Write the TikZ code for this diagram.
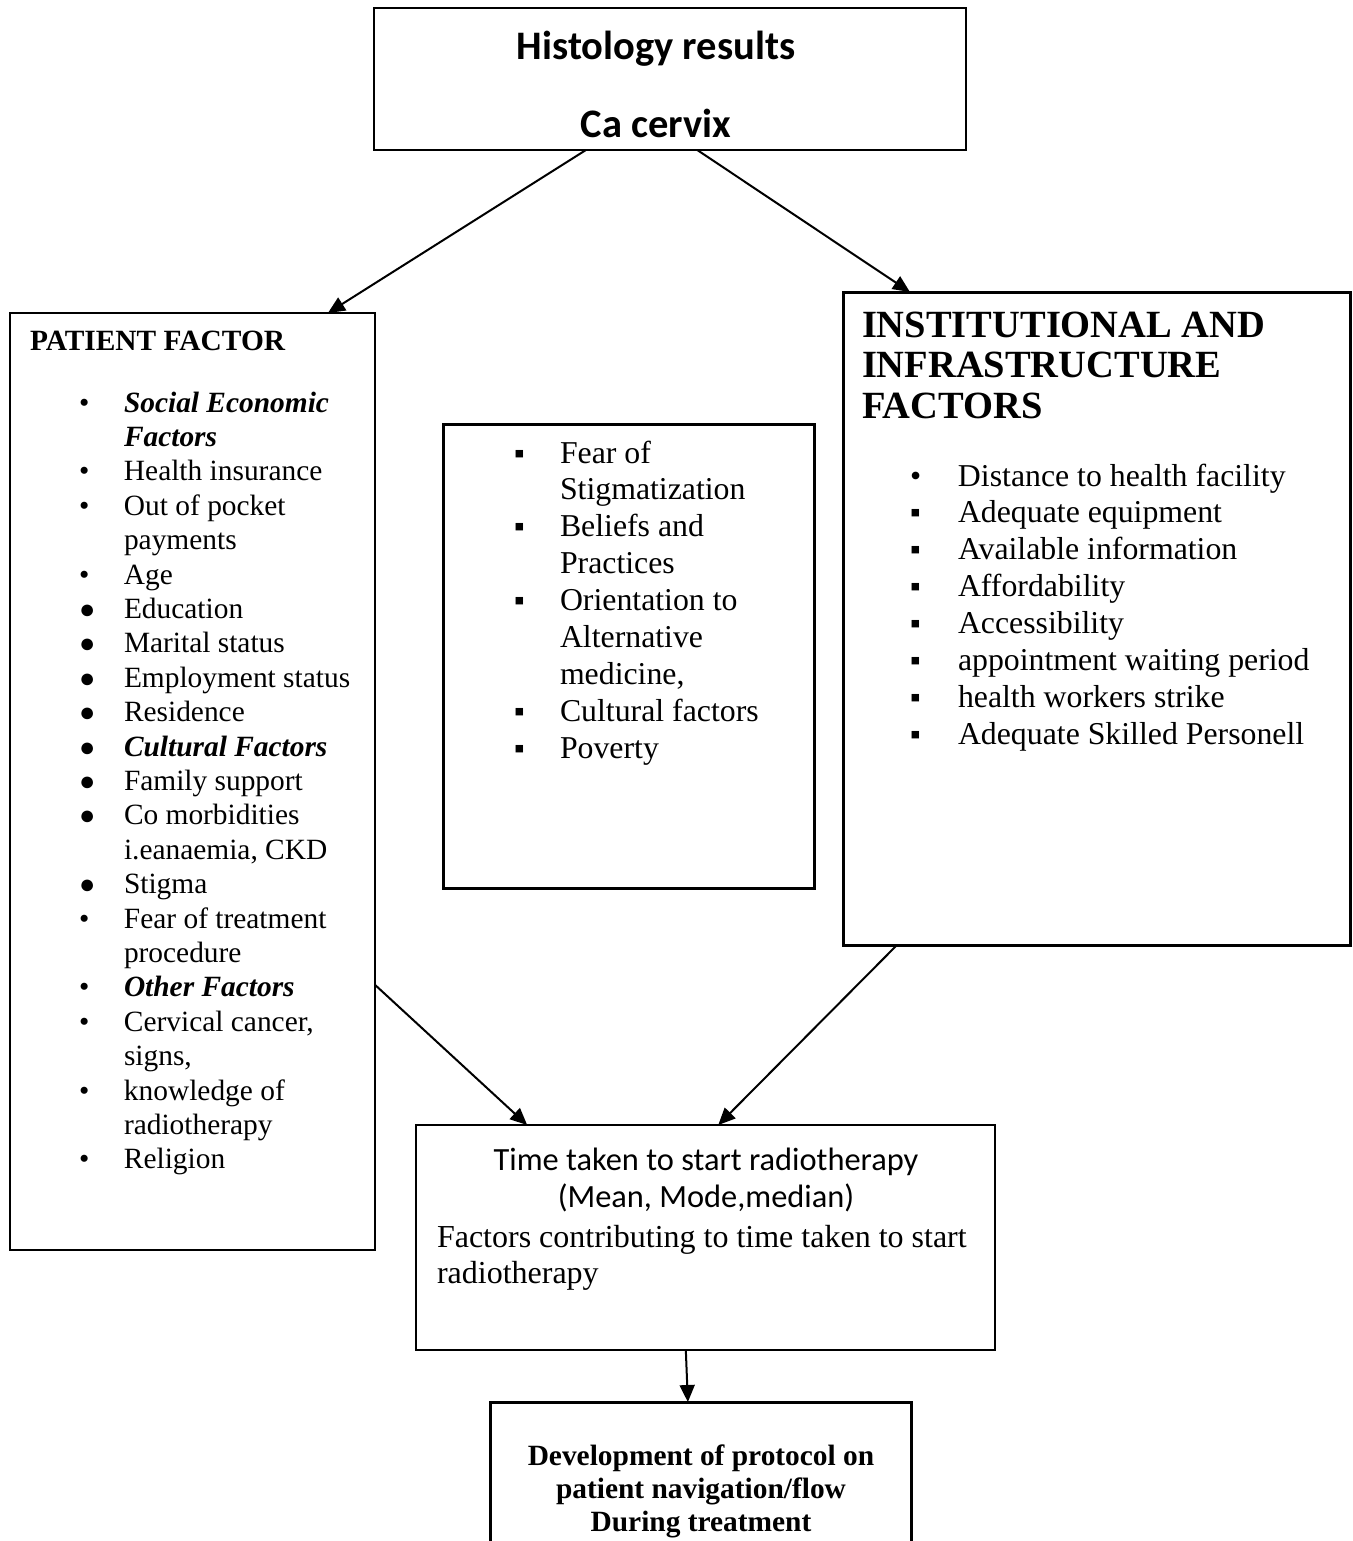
\documentclass[tikz,border=0pt]{standalone}
\usepackage{fontspec}
\setmainfont{Liberation Serif}
\newfontfamily\calib{Carlito}
\usepackage{array}
\usetikzlibrary{arrows.meta,calc}
\newcommand\smb{•}
\newcommand\bgb{{\fontsize{27}{27}\selectfont ●}}
\newcommand\sqb{{\fontsize{30}{30}\selectfont ▪}}
\newcommand\bi[1]{\textbf{\textit{#1}}}
\tikzset{
  box/.style={draw, line width=2pt, inner sep=0pt, outer sep=0pt},
  thickbox/.style={draw, line width=3pt, inner sep=0pt, outer sep=0pt},
  txt/.style={inner sep=0pt, outer sep=0pt},
  arr/.style={line width=2pt, -{Triangle[length=17pt,width=15pt]}},
}
\begin{document}
\begin{tikzpicture}[x=1pt,y=-1pt]
\useasboundingbox (0,0) rectangle (1352,1541);
\clip (0,0) rectangle (1352,1541);
% boxes
\node[box, minimum width=592pt, minimum height=142pt] (top) at (670,79) {};
\node[box, minimum width=365pt, minimum height=937pt] (left) at (192.5,781.5) {};
\node[thickbox, minimum width=371pt, minimum height=464pt] (mid) at (628.5,656) {};
\node[thickbox, minimum width=507pt, minimum height=653pt] (right) at (1096.5,618.5) {};
\node[box, minimum width=579pt, minimum height=225pt] (time) at (705.5,1237.5) {};
\node[thickbox, minimum width=421pt, minimum height=160pt] (bottom) at (700.5,1482) {};
% top text
\node[txt, anchor=base] (t1) at (656,60) {\calib\bfseries\fontsize{40.5}{40}\selectfont Histology results};
\node[txt, anchor=base] (t2) at (656,138) {\calib\bfseries\fontsize{40.5}{40}\selectfont Ca cervix};
% left box
\node[txt, anchor=base west] (lhead) at (30,350) {\fontsize{29.4}{34}\selectfont\bfseries PATIENT FACTOR};
\node[txt, anchor=base west] (llist) at (79,412) {\fontsize{29.4}{34.4}\selectfont
\begin{tabular}[t]{@{}p{45pt}@{}l@{}}
\smb & \bi{Social Economic}\\
 & \bi{Factors}\\
\smb & Health insurance\\
\smb & Out of pocket\\
 & payments\\
\smb & Age\\
\bgb & Education\\
\bgb & Marital status\\
\bgb & Employment status\\
\bgb & Residence\\
\bgb & \bi{Cultural Factors}\\
\bgb & Family support\\
\bgb & Co morbidities\\
 & i.eanaemia, CKD\\
\bgb & Stigma\\
\smb & Fear of treatment\\
 & procedure\\
\smb & \bi{Other Factors}\\
\smb & Cervical cancer,\\
 & signs,\\
\smb & knowledge of\\
 & radiotherapy\\
\smb & Religion
\end{tabular}};
% middle box
\node[txt, anchor=base west] (mlist) at (514,463) {\fontsize{31.8}{36.9}\selectfont
\begin{tabular}[t]{@{}p{46pt}@{}l@{}}
\sqb & Fear of\\
 & Stigmatization\\
\sqb & Beliefs and\\
 & Practices\\
\sqb & Orientation to\\
 & Alternative\\
 & medicine,\\
\sqb & Cultural factors\\
\sqb & Poverty
\end{tabular}};
% right box
\node[txt, anchor=base west] (rhead) at (862,337) {\fontsize{38.5}{40.5}\selectfont\bfseries
\begin{tabular}[t]{@{}l@{}}
INSTITUTIONAL AND\\
INFRASTRUCTURE\\
FACTORS
\end{tabular}};
\node[txt, anchor=base west] (rlist) at (910,486) {\fontsize{31.8}{36.9}\selectfont
\begin{tabular}[t]{@{}p{48pt}@{}l@{}}
\smb & Distance to health facility\\
\sqb & Adequate equipment\\
\sqb & Available information\\
\sqb & Affordability\\
\sqb & Accessibility\\
\sqb & appointment waiting period\\
\sqb & health workers strike\\
\sqb & Adequate Skilled Personell
\end{tabular}};
% time box
\node[txt, anchor=base] (tm1) at (706,1170) {\calib\fontsize{32.4}{32}\selectfont Time taken to start radiotherapy};
\node[txt, anchor=base] (tm2) at (706,1207) {\calib\fontsize{32.4}{32}\selectfont (Mean, Mode,median)};
\node[txt, anchor=base west] (tm3) at (437,1247) {\fontsize{32}{36}\selectfont
\begin{tabular}[t]{@{}l@{}}
Factors contributing to time taken to start\\
radiotherapy
\end{tabular}};
% bottom box
\node[txt, anchor=base] (b1) at (701,1465) {\fontsize{29.4}{33}\selectfont\bfseries
\begin{tabular}[t]{@{}c@{}}
Development of protocol on\\
patient navigation/flow\\
During treatment
\end{tabular}};
% arrows
\draw[arr] ($(top.south west)!0.358!(top.south east)$) -- ($(left.north west)!0.871!(left.north east)$);
\draw[arr] ($(top.south west)!0.546!(top.south east)$) -- ($(right.north west)!0.132!(right.north east)$);
\draw[arr] ($(left.north east)!0.717!(left.south east)$) -- ($(time.north west)!0.192!(time.north east)$);
\draw[arr] ($(right.south west)!0.1065!(right.south east)$) -- ($(time.north west)!0.522!(time.north east)$);
\draw[arr] ($(time.south west)!0.466!(time.south east)$) -- ($(bottom.north west)!0.470!(bottom.north east)$);
\end{tikzpicture}
\end{document}
